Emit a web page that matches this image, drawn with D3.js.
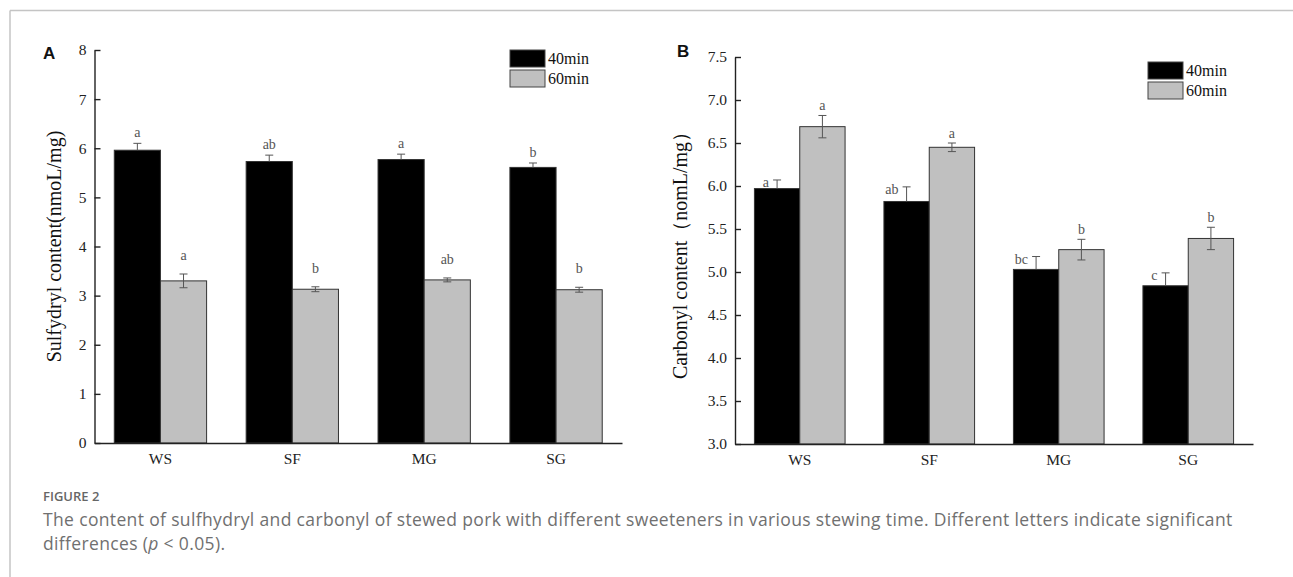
<!DOCTYPE html>
<html>
<head>
<meta charset="utf-8">
<script src="https://cdn.jsdelivr.net/npm/d3@7"></script>
<style>
  body { margin: 0; background: #fff; }
  .serif { font-family: "Liberation Serif", "Times New Roman", serif; }
  .axis path, .axis line { stroke: #222; stroke-width: 1.4; }
  .axis text { font-family: "Liberation Serif", serif; font-size: 15.5px; fill: #222; }
</style>
</head>
<body>
<svg id="fig" width="1293" height="577"></svg>
<script>
"use strict";

// data
var categories = ["WS", "SF", "MG", "SG"];
var seriesNames = ["40min", "60min"];

var sulfhydryl40 = [5.96, 5.73, 5.77, 5.61];
var sulfhydryl60 = [3.30, 3.13, 3.32, 3.12];
var sulfhydrylErr40 = [0.14, 0.13, 0.11, 0.09];
var sulfhydrylErr60 = [0.14, 0.05, 0.04, 0.05];
var sulfhydrylLetters40 = ["a", "ab", "a", "b"];
var sulfhydrylLetters60 = ["a", "b", "ab", "b"];
var sulfhydrylTicks = [0, 1, 2, 3, 4, 5, 6, 7, 8];

var carbonyl40 = [5.97, 5.82, 5.03, 4.84];
var carbonyl60 = [6.69, 6.45, 5.26, 5.39];
var carbonylErr40 = [0.10, 0.17, 0.15, 0.15];
var carbonylErr60 = [0.13, 0.05, 0.12, 0.13];
var carbonylLetters40 = ["a", "ab", "bc", "c"];
var carbonylLetters60 = ["a", "a", "b", "b"];
var carbonylTicks = [3.0, 3.5, 4.0, 4.5, 5.0, 5.5, 6.0, 6.5, 7.0, 7.5];

var fills = ["#000000", "#c0c0c0"];

var svg = d3.select("#fig");

// card frame (top and left edges only)
svg.append("line").attr("x1", 10).attr("y1", 10.5).attr("x2", 1293).attr("y2", 10.5)
    .attr("stroke", "#c4c4c4").attr("stroke-width", 1.5);
svg.append("line").attr("x1", 10).attr("y1", 10.5).attr("x2", 10).attr("y2", 577)
    .attr("stroke", "#c4c4c4").attr("stroke-width", 1.5);

function drawPanel(p) {
    var g = svg.append("g");

    var x0 = d3.scaleBand().domain(categories).range([p.left, p.right])
        .paddingInner(0.3).paddingOuter(0.15);
    var x1 = d3.scaleBand().domain(seriesNames).range([0, x0.bandwidth()]);
    var y = d3.scaleLinear().domain(p.domain).range([p.bottom, p.top]);

    var rows = [];
    categories.forEach(function (c, i) {
        p.values.forEach(function (vals, s) {
            rows.push({ cat: c, s: s, v: vals[i], e: p.errs[s][i], letter: p.letters[s][i] });
        });
    });

    // bars
    g.selectAll("rect.bar").data(rows).enter().append("rect")
        .attr("class", "bar")
        .attr("x", function (d) { return x0(d.cat) + x1(seriesNames[d.s]); })
        .attr("y", function (d) { return y(d.v); })
        .attr("width", x1.bandwidth())
        .attr("height", function (d) { return y(p.domain[0]) - y(d.v); })
        .attr("fill", function (d) { return fills[d.s]; })
        .attr("stroke", "#333").attr("stroke-width", 1);

    // error bars; the lower whisker of the black bars is hidden in the bar
    var cx = function (d) { return x0(d.cat) + x1(seriesNames[d.s]) + x1.bandwidth() / 2; };
    var eb = g.selectAll("g.err").data(rows).enter().append("g").attr("class", "err")
        .attr("stroke", "#555").attr("stroke-width", 1);
    eb.append("line")
        .attr("x1", cx).attr("x2", cx)
        .attr("y1", function (d) { return y(d.s === 0 ? d.v : d.v - d.e); })
        .attr("y2", function (d) { return y(d.v + d.e); });
    eb.append("line")
        .attr("x1", function (d) { return cx(d) - 4; }).attr("x2", function (d) { return cx(d) + 4; })
        .attr("y1", function (d) { return y(d.v + d.e); })
        .attr("y2", function (d) { return y(d.v + d.e); });
    eb.filter(function (d) { return d.s === 1; }).append("line")
        .attr("x1", function (d) { return cx(d) - 4; }).attr("x2", function (d) { return cx(d) + 4; })
        .attr("y1", function (d) { return y(d.v - d.e); })
        .attr("y2", function (d) { return y(d.v - d.e); });

    // significance letters
    g.selectAll("text.sig").data(rows).enter().append("text")
        .attr("class", "serif sig")
        .attr("x", function (d) { return cx(d) + p.letterDx[d.s]; })
        .attr("y", function (d) { return y(d.v + d.e) + p.letterDy[d.s]; })
        .attr("text-anchor", function (d) { return p.letterDx[d.s] < 0 ? "end" : "middle"; })
        .attr("font-size", 14).attr("fill", "#555")
        .text(function (d) { return d.letter; });

    // axes
    g.append("g").attr("class", "axis")
        .attr("transform", "translate(" + p.left + ",0)")
        .call(d3.axisLeft(y).tickValues(p.ticks).tickFormat(d3.format(p.fmt))
            .tickSizeInner(-6).tickSizeOuter(0).tickPadding(8));
    g.append("g").attr("class", "axis")
        .attr("transform", "translate(0," + p.bottom + ")")
        .call(d3.axisBottom(x0).tickSize(0).tickPadding(10));

    // axis title
    g.append("text").attr("class", "serif")
        .attr("transform", "translate(" + p.titleX + "," + ((p.top + p.bottom) / 2) + ") rotate(-90)")
        .attr("text-anchor", "middle").attr("dy", "0.35em")
        .attr("font-size", 20).attr("fill", "#111")
        .text(p.title);

    // panel letter
    g.append("text")
        .attr("x", p.labelX).attr("y", p.labelY)
        .attr("font-family", "Liberation Sans, Arial, sans-serif")
        .attr("font-weight", "bold").attr("font-size", 17).attr("fill", "#111")
        .text(p.label);

    // legend
    var lg = g.append("g").attr("transform", "translate(" + p.legendX + "," + p.legendY + ")");
    seriesNames.forEach(function (n, s) {
        lg.append("rect").attr("x", 0).attr("y", s * 20).attr("width", 35).attr("height", 17)
            .attr("fill", fills[s]).attr("stroke", "#444").attr("stroke-width", 1);
        lg.append("text").attr("class", "serif")
            .attr("x", 38).attr("y", s * 20 + 14)
            .attr("font-size", 16).attr("fill", "#111")
            .text(n);
    });
}

drawPanel({
    left: 94.5, right: 622, top: 50, bottom: 443,
    domain: [0, 8], ticks: sulfhydrylTicks, fmt: "d",
    values: [sulfhydryl40, sulfhydryl60],
    errs: [sulfhydrylErr40, sulfhydrylErr60],
    letters: [sulfhydrylLetters40, sulfhydrylLetters60],
    letterDx: [0, 0], letterDy: [-6, -14],
    title: "Sulfydryl content(nmoL/mg)", titleX: 54,
    label: "A", labelX: 43, labelY: 59,
    legendX: 510, legendY: 50
});

drawPanel({
    left: 735, right: 1253, top: 57, bottom: 444,
    domain: [3, 7.5], ticks: carbonylTicks, fmt: ".1f",
    values: [carbonyl40, carbonyl60],
    errs: [carbonylErr40, carbonylErr60],
    letters: [carbonylLetters40, carbonylLetters60],
    letterDx: [-8, 0], letterDy: [7, -5],
    title: "Carbonyl content\uff08nomL/mg\uff09", titleX: 680,
    label: "B", labelX: 677, labelY: 57,
    legendX: 1148, legendY: 62
});

// caption
var cap = svg.append("g").attr("font-family", "Open Sans, sans-serif").attr("fill", "#707070");
cap.append("text").attr("x", 43).attr("y", 501)
    .attr("font-size", 13).attr("font-weight", 600).attr("fill", "#666")
    .text("FIGURE 2");
cap.append("text").attr("x", 43).attr("y", 526).attr("font-size", 17.5).attr("letter-spacing", 0.35)
    .text("The content of sulfhydryl and carbonyl of stewed pork with different sweeteners in various stewing time. Different letters indicate significant");
var l2 = cap.append("text").attr("x", 43).attr("y", 550).attr("font-size", 17.5).attr("letter-spacing", 0.35);
l2.append("tspan").text("differences (");
l2.append("tspan").attr("font-style", "italic").text("p");
l2.append("tspan").text(" < 0.05).");
</script>
</body>
</html>
